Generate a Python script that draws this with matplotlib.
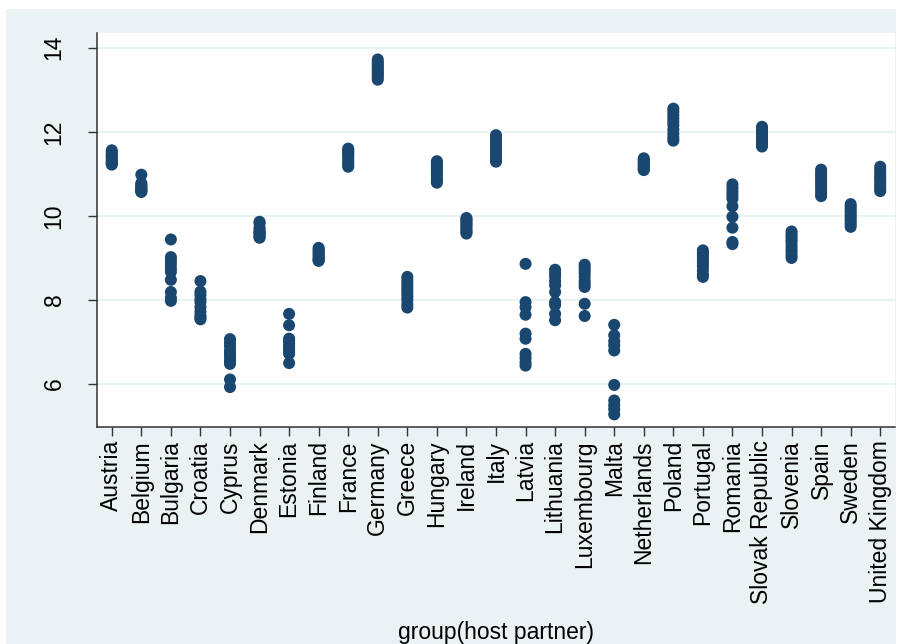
import matplotlib
matplotlib.use("Agg")
import matplotlib.pyplot as plt
from matplotlib.patches import Rectangle

OUTFILE = "out.png"

countries = [
    "Austria", "Belgium", "Bulgaria", "Croatia", "Cyprus", "Denmark",
    "Estonia", "Finland", "France", "Germany", "Greece", "Hungary",
    "Ireland", "Italy", "Latvia", "Lithuania", "Luxembourg", "Malta",
    "Netherlands", "Poland", "Portugal", "Romania", "Slovak Republic",
    "Slovenia", "Spain", "Sweden", "United Kingdom",
]

# one row of yearly values per host partner, same order as countries
values = [
    [11.56, 11.52, 11.47, 11.43, 11.40, 11.35, 11.30, 11.27, 11.24, 11.22],
    [10.98, 10.78, 10.74, 10.70, 10.68, 10.66, 10.62, 10.60, 10.58, 10.57],
    [9.44, 9.02, 8.94, 8.85, 8.75, 8.67, 8.48, 8.19, 8.05, 7.98],
    [8.45, 8.20, 8.12, 8.02, 7.95, 7.83, 7.72, 7.63, 7.58, 7.54],
    [7.07, 6.98, 6.90, 6.80, 6.72, 6.64, 6.55, 6.48, 6.11, 5.93],
    [9.86, 9.82, 9.72, 9.66, 9.62, 9.60, 9.58, 9.54, 9.50, 9.48],
    [7.67, 7.40, 7.08, 7.02, 6.96, 6.90, 6.84, 6.78, 6.72, 6.50],
    [9.24, 9.20, 9.16, 9.12, 9.08, 9.04, 9.00, 8.97, 8.95, 8.93],
    [11.60, 11.56, 11.52, 11.48, 11.43, 11.38, 11.32, 11.27, 11.22, 11.17],
    [13.72, 13.66, 13.60, 13.55, 13.50, 13.45, 13.40, 13.35, 13.30, 13.24],
    [8.55, 8.47, 8.39, 8.31, 8.24, 8.16, 8.08, 8.00, 7.90, 7.82],
    [11.30, 11.25, 11.20, 11.15, 11.10, 11.04, 10.98, 10.90, 10.84, 10.79],
    [9.95, 9.92, 9.88, 9.84, 9.80, 9.76, 9.71, 9.66, 9.62, 9.58],
    [11.92, 11.86, 11.80, 11.72, 11.65, 11.58, 11.50, 11.42, 11.35, 11.29],
    [8.86, 7.95, 7.83, 7.65, 7.20, 7.08, 6.72, 6.62, 6.52, 6.44],
    [8.72, 8.64, 8.56, 8.45, 8.35, 8.19, 7.95, 7.88, 7.67, 7.52],
    [8.84, 8.78, 8.71, 8.64, 8.55, 8.45, 8.38, 8.31, 7.91, 7.62],
    [7.41, 7.16, 7.02, 6.92, 6.80, 5.98, 5.61, 5.50, 5.40, 5.28],
    [11.37, 11.34, 11.30, 11.27, 11.24, 11.20, 11.17, 11.14, 11.11, 11.09],
    [12.55, 12.48, 12.40, 12.32, 12.24, 12.16, 12.05, 11.95, 11.86, 11.79],
    [9.18, 9.12, 9.06, 9.00, 8.93, 8.87, 8.80, 8.70, 8.60, 8.55],
    [10.75, 10.66, 10.57, 10.49, 10.41, 10.23, 9.98, 9.72, 9.38, 9.33],
    [12.12, 12.07, 12.02, 11.97, 11.92, 11.86, 11.80, 11.74, 11.70, 11.65],
    [9.63, 9.56, 9.50, 9.44, 9.38, 9.30, 9.22, 9.15, 9.07, 9.00],
    [11.10, 11.03, 10.96, 10.90, 10.83, 10.76, 10.70, 10.62, 10.54, 10.47],
    [10.28, 10.22, 10.16, 10.10, 10.04, 9.98, 9.92, 9.86, 9.80, 9.74],
    [11.17, 11.10, 11.03, 10.96, 10.90, 10.84, 10.77, 10.70, 10.64, 10.59],
]

yticks = [6, 8, 10, 12, 14]

NAVY = "#1a476f"
REGION = "#eaf2f3"
AXIS = "#333333"


def main():
    plt.rcParams["font.family"] = ["Liberation Sans", "DejaVu Sans"]
    plt.rcParams["font.size"] = 16.5

    W, H = 903, 644
    fig = plt.figure(figsize=(W / 100, H / 100), dpi=100, facecolor="white")

    # stata-style graph region behind the plot
    region = Rectangle((6 / W, 0), 890 / W, (H - 9) / H,
                       transform=fig.transFigure, facecolor=REGION,
                       edgecolor="none", zorder=-10)
    fig.add_artist(region)

    ax = fig.add_axes([97 / W, (H - 427) / H, (895 - 97) / W, (427 - 33) / H])
    ax.set_facecolor("white")

    for i, vals in enumerate(values):
        ax.scatter([i + 1] * len(vals), vals, s=75, color=NAVY,
                   edgecolors="none", zorder=3)

    ax.set_xlim(0.5, len(countries) + 0.5)
    ax.set_ylim(4.98, 14.35)

    ax.set_yticks(yticks)
    ax.set_yticklabels([str(t) for t in yticks], rotation=90, va="center")
    ax.set_xticks(range(1, len(countries) + 1))
    ax.set_xticklabels(countries, rotation=90)

    ax.grid(axis="y", color=REGION, linewidth=1.6, zorder=1)
    ax.set_axisbelow(True)

    for side in ("top", "right"):
        ax.spines[side].set_visible(False)
    for side in ("left", "bottom"):
        ax.spines[side].set_color(AXIS)
        ax.spines[side].set_linewidth(1.1)

    ax.tick_params(axis="y", length=6.5, width=1, color=AXIS, pad=16)
    ax.tick_params(axis="x", length=6.5, width=1, color=AXIS, pad=3)

    ax.set_xlabel("group(host partner)", labelpad=12)

    plt.savefig(OUTFILE, dpi=100, facecolor="white")


if __name__ == "__main__":
    main()
